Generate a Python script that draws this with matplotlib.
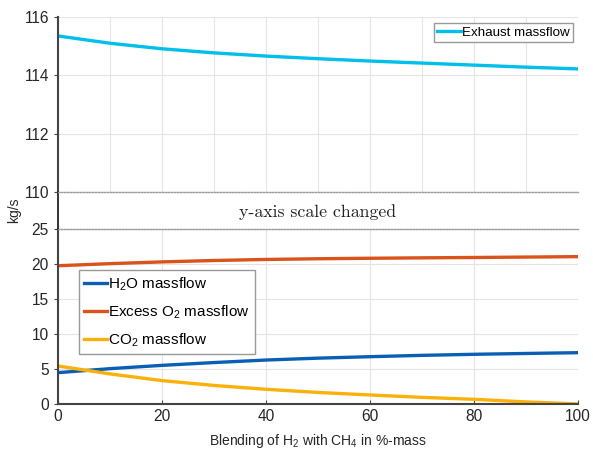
import matplotlib
matplotlib.use("Agg")
import matplotlib.pyplot as plt

plt.rcParams['font.family'] = ['Liberation Sans', 'DejaVu Sans']
plt.rcParams['mathtext.fontset'] = 'custom'
plt.rcParams['mathtext.rm'] = 'Liberation Sans'
plt.rcParams['mathtext.it'] = 'Liberation Sans:italic'

# blending share of H2 in %-mass
blend = [0, 10, 20, 30, 40, 50, 60, 70, 80, 90, 100]

exhaust = [115.35, 115.10, 114.91, 114.77, 114.66, 114.57, 114.49, 114.42, 114.35, 114.28, 114.22]
h2o = [4.48, 5.05, 5.52, 5.92, 6.28, 6.55, 6.76, 6.95, 7.10, 7.22, 7.33]
o2 = [19.75, 20.05, 20.30, 20.50, 20.65, 20.75, 20.82, 20.88, 20.93, 20.99, 21.05]
co2 = [5.43, 4.30, 3.34, 2.65, 2.10, 1.65, 1.29, 0.95, 0.67, 0.30, 0.0]

top_ticks = [110, 112, 114, 116]
bottom_ticks = [0, 5, 10, 15, 20, 25]
x_ticks = [0, 20, 40, 60, 80, 100]

W, H = 593, 455
fig = plt.figure(figsize=(W / 100, H / 100), dpi=100)

left = 58 / W
width = (578 - 58) / W
ax_top = fig.add_axes([left, 1 - 192 / H, width, 175 / H])
ax_bot = fig.add_axes([left, 1 - 404 / H, width, 175 / H])
ax_mid = fig.add_axes([left, 1 - 229 / H, width, 37 / H], zorder=5)

spine_col = '#444444'
text_col = '#262626'
grid_col = '#e4e4e4'
lw = 2.4

# upper part: exhaust massflow
ax_top.plot(blend, exhaust, color='#00bfe8', lw=lw, label='Exhaust massflow')
ax_top.set_xlim(0, 100)
ax_top.set_ylim(110, 116)
ax_top.set_yticks(top_ticks)
ax_top.set_xticks(range(0, 101, 10))
ax_top.tick_params(axis='x', length=0, labelbottom=False)
ax_top.tick_params(axis='y', labelsize=11.2, length=3, color=spine_col, labelcolor=text_col)
ax_top.grid(True, color=grid_col, lw=0.8)
for s in ['top', 'right', 'bottom']:
    ax_top.spines[s].set_visible(False)
ax_top.spines['left'].set_color(spine_col)
ax_top.spines['left'].set_linewidth(1.5)
ax_top.legend(loc='upper right', bbox_to_anchor=(573 / W, 1 - 23 / H),
              bbox_transform=fig.transFigure, borderaxespad=0, fontsize=9.6,
              fancybox=False, edgecolor='#999999', framealpha=1,
              handlelength=1.8, handletextpad=0.05, borderpad=0.25)

# gap with scale break note
ax_mid.set_xlim(0, 100)
ax_mid.set_ylim(0, 1)
ax_mid.set_xticks([])
ax_mid.set_yticks([])
ax_mid.patch.set_alpha(0)
ax_mid.spines['right'].set_visible(False)
for s in ['top', 'bottom']:
    ax_mid.spines[s].set_linestyle((0, (1, 1.2)))
    ax_mid.spines[s].set_color('#9a9a9a')
    ax_mid.spines[s].set_linewidth(1.0)
ax_mid.spines['left'].set_color('#111111')
ax_mid.spines['left'].set_linewidth(1.2)
ax_mid.text(50, 0.47, 'y-axis scale changed', ha='center', va='center',
            family='cmr10', fontsize=12.8, color='#222222')

# lower part: species massflows
ax_bot.plot(blend, h2o, color='#0a5fb4', lw=lw, label='H$_2$O massflow')
ax_bot.plot(blend, o2, color='#d9531a', lw=lw, label='Excess O$_2$ massflow')
ax_bot.plot(blend, co2, color='#fbb10a', lw=lw, label='CO$_2$ massflow')
ax_bot.set_xlim(0, 100)
ax_bot.set_ylim(0, 25)
ax_bot.set_yticks(bottom_ticks)
ax_bot.set_xticks(x_ticks)
ax_bot.tick_params(axis='y', labelsize=11.2, length=3, color=spine_col, labelcolor=text_col)
ax_bot.tick_params(axis='x', labelsize=11.2, length=3, direction='in', color=spine_col,
                   labelcolor=text_col)
ax_bot.grid(True, color=grid_col, lw=0.8)
for s in ['top', 'right']:
    ax_bot.spines[s].set_visible(False)
for s in ['left', 'bottom']:
    ax_bot.spines[s].set_color(spine_col)
    ax_bot.spines[s].set_linewidth(1.5)
ax_bot.set_xlabel('Blending of H$_2$ with CH$_4$ in %-mass', fontsize=10, labelpad=6,
                  color=text_col)
ax_bot.legend(loc='upper left', bbox_to_anchor=(79 / W, 1 - 270 / H),
              bbox_transform=fig.transFigure, borderaxespad=0, fontsize=11,
              fancybox=False, edgecolor='#999999', framealpha=1,
              handlelength=1.45, handletextpad=0.1, borderpad=0.35,
              labelspacing=0.7)

fig.text(14 / W, 1 - 210 / H, 'kg/s', rotation=90, ha='center', va='center', fontsize=10,
         color=text_col)

fig.savefig('out.png', dpi=100)
